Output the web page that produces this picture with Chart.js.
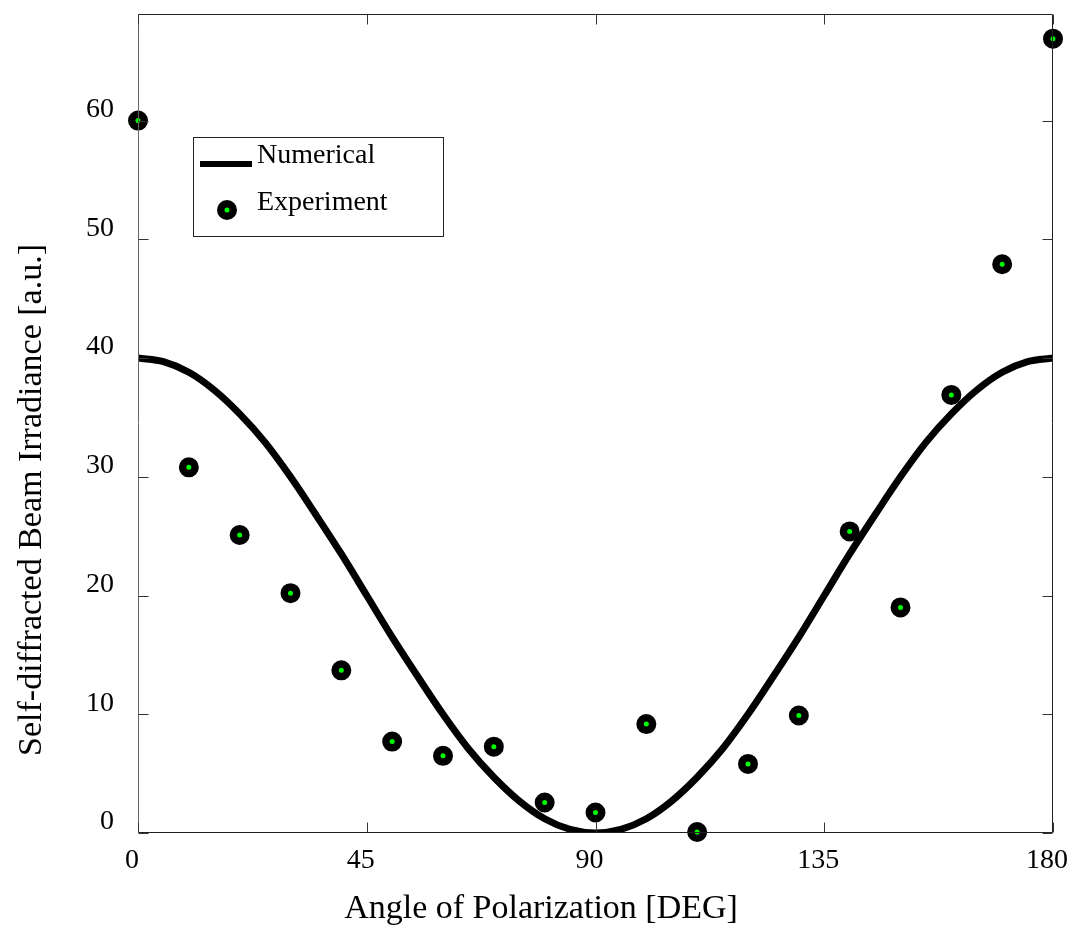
<!DOCTYPE html>
<html>
<head>
<meta charset="utf-8">
<script src="https://cdn.jsdelivr.net/npm/chart.js@4"></script>
<style>
  html, body { margin: 0; padding: 0; background: #ffffff; }
  #wrap { width: 1074px; height: 932px; }
</style>
</head>
<body>
<div id="wrap"><canvas id="c" width="1074" height="932"></canvas></div>
<script>
// ---- data ----
const curveAngles = [0,5,10,15,20,25,30,35,40,45,50,55,60,65,70,75,80,85,90,95,100,105,110,115,120,125,130,135,140,145,150,155,160,165,170,175,180];
const curveValues = [40,39.7,38.8,37.3,35.3,32.9,30.0,26.8,23.5,20.0,16.5,13.2,10.0,7.1,4.7,2.7,1.2,0.3,0,0.3,1.2,2.7,4.7,7.1,10.0,13.2,16.5,20.0,23.5,26.8,30.0,32.9,35.3,37.3,38.8,39.7,40];
const expAngles = [0,10,20,30,40,50,60,70,80,90,100,110,120,130,140,150,160,170,180];
const expValues = [60.0,30.8,25.1,20.2,13.7,7.7,6.5,7.27,2.57,1.73,9.17,0.08,5.82,9.9,25.4,19.0,36.9,47.9,66.9];
const xTickValues = [0,45,90,135,180];
const yTickValues = [0,10,20,30,40,50,60];
const seriesNames = ['Numerical','Experiment'];
const xTitle = 'Angle of Polarization [DEG]';
const yTitle = 'Self-diffracted Beam Irradiance [a.u.]';

const FONT = "'Liberation Serif', 'Times New Roman', serif";

const framePlugin = {
  id: 'frame',
  afterDraw(chart) {
    const ctx = chart.ctx;
    const a = chart.chartArea;
    const xs = chart.scales.x, ys = chart.scales.y;
    const L = Math.round(a.left) + 0.5, R = Math.round(a.right) - 0.5;
    const T = Math.round(a.top) + 0.5, B = Math.round(a.bottom) - 0.5;
    ctx.save();
    ctx.lineWidth = 1;
    // frame
    ctx.strokeStyle = '#222';
    ctx.beginPath();
    ctx.moveTo(L, T); ctx.lineTo(R, T); ctx.lineTo(R, B); ctx.lineTo(L, B);
    ctx.stroke();
    ctx.strokeStyle = '#666';
    ctx.beginPath(); ctx.moveTo(L, T); ctx.lineTo(L, B); ctx.stroke();
    // inward ticks
    const tl = 10;
    ctx.strokeStyle = '#333';
    ctx.beginPath();
    xTickValues.forEach(v => {
      const px = Math.round(xs.getPixelForValue(v)) + 0.5;
      ctx.moveTo(px, B); ctx.lineTo(px, B - tl);
      ctx.moveTo(px, T); ctx.lineTo(px, T + tl);
    });
    yTickValues.forEach(v => {
      const py = Math.round(ys.getPixelForValue(v)) + 0.5;
      ctx.moveTo(L, py); ctx.lineTo(L + tl, py);
      ctx.moveTo(R, py); ctx.lineTo(R - tl, py);
    });
    ctx.stroke();
    ctx.restore();
  },
  afterDatasetsDraw(chart) {
    const ctx = chart.ctx;
    ctx.save();
    // axis titles
    ctx.fillStyle = '#000';
    ctx.font = '34px ' + FONT;
    ctx.textAlign = 'center';
    ctx.textBaseline = 'alphabetic';
    ctx.fillText(xTitle, 541, 918);
    ctx.translate(41, 500);
    ctx.rotate(-Math.PI / 2);
    ctx.fillText(yTitle, 0, 0);
    ctx.restore();

    // legend
    ctx.save();
    ctx.fillStyle = '#fff';
    ctx.fillRect(193, 137, 251, 100);
    ctx.strokeStyle = '#222';
    ctx.lineWidth = 1;
    ctx.strokeRect(193.5, 137.5, 250, 99);
    const dsLine = chart.data.datasets[1];
    const dsPts = chart.data.datasets[0];
    ctx.strokeStyle = dsLine.borderColor;
    ctx.lineWidth = 6;
    ctx.beginPath(); ctx.moveTo(200, 164); ctx.lineTo(252, 164); ctx.stroke();
    ctx.beginPath();
    ctx.arc(227, 210, dsPts.pointRadius, 0, Math.PI * 2);
    ctx.fillStyle = dsPts.backgroundColor;
    ctx.fill();
    ctx.lineWidth = dsPts.borderWidth;
    ctx.strokeStyle = dsPts.borderColor;
    ctx.stroke();
    ctx.fillStyle = '#000';
    ctx.font = '28px ' + FONT;
    ctx.textAlign = 'left';
    ctx.textBaseline = 'alphabetic';
    ctx.fillText(dsLine.label, 257, 163);
    ctx.fillText(dsPts.label, 257, 210);
    ctx.restore();
  }
};

const chart = new Chart(document.getElementById('c'), {
  type: 'scatter',
  data: {
    datasets: [
      {
        label: seriesNames[1],
        data: expAngles.map((x, i) => ({ x: x, y: expValues[i] })),
        showLine: false,
        pointRadius: 6.25,
        pointHoverRadius: 6.25,
        borderWidth: 7.5,
        borderColor: '#000000',
        backgroundColor: '#00ff00',
        clip: false
      },
      {
        label: seriesNames[0],
        data: curveAngles.map((x, i) => ({ x: x, y: curveValues[i] })),
        showLine: true,
        pointRadius: 0,
        borderWidth: 7,
        borderColor: '#000000',
        backgroundColor: '#000000',
        cubicInterpolationMode: 'monotone',
        fill: false
      }
    ]
  },
  options: {
    responsive: false,
    animation: false,
    events: [],
    layout: { padding: { left: 0, top: 11, right: 21, bottom: 0 } },
    plugins: { legend: { display: false }, tooltip: { enabled: false } },
    scales: {
      x: {
        type: 'linear',
        min: 0, max: 180,
        grid: { display: false, drawTicks: false },
        border: { display: false },
        afterBuildTicks(scale) { scale.ticks = xTickValues.map(v => ({ value: v })); },
        afterFit(scale) { scale.height = 99; scale.paddingLeft = 0; scale.paddingRight = 0; },
        ticks: {
          color: '#000',
          font: { family: FONT, size: 28 },
          padding: 11,
          labelOffset: -6,
          maxRotation: 0,
          autoSkip: false
        }
      },
      y: {
        type: 'linear',
        min: 0, max: 69,
        grid: { display: false, drawTicks: false },
        border: { display: false },
        afterBuildTicks(scale) { scale.ticks = yTickValues.map(v => ({ value: v })); },
        afterFit(scale) { scale.width = 138; scale.paddingTop = 0; scale.paddingBottom = 0; },
        ticks: {
          color: '#000',
          font: { family: FONT, size: 28 },
          padding: 24,
          labelOffset: -11,
          autoSkip: false
        }
      }
    }
  },
  plugins: [framePlugin]
});
</script>
</body>
</html>
